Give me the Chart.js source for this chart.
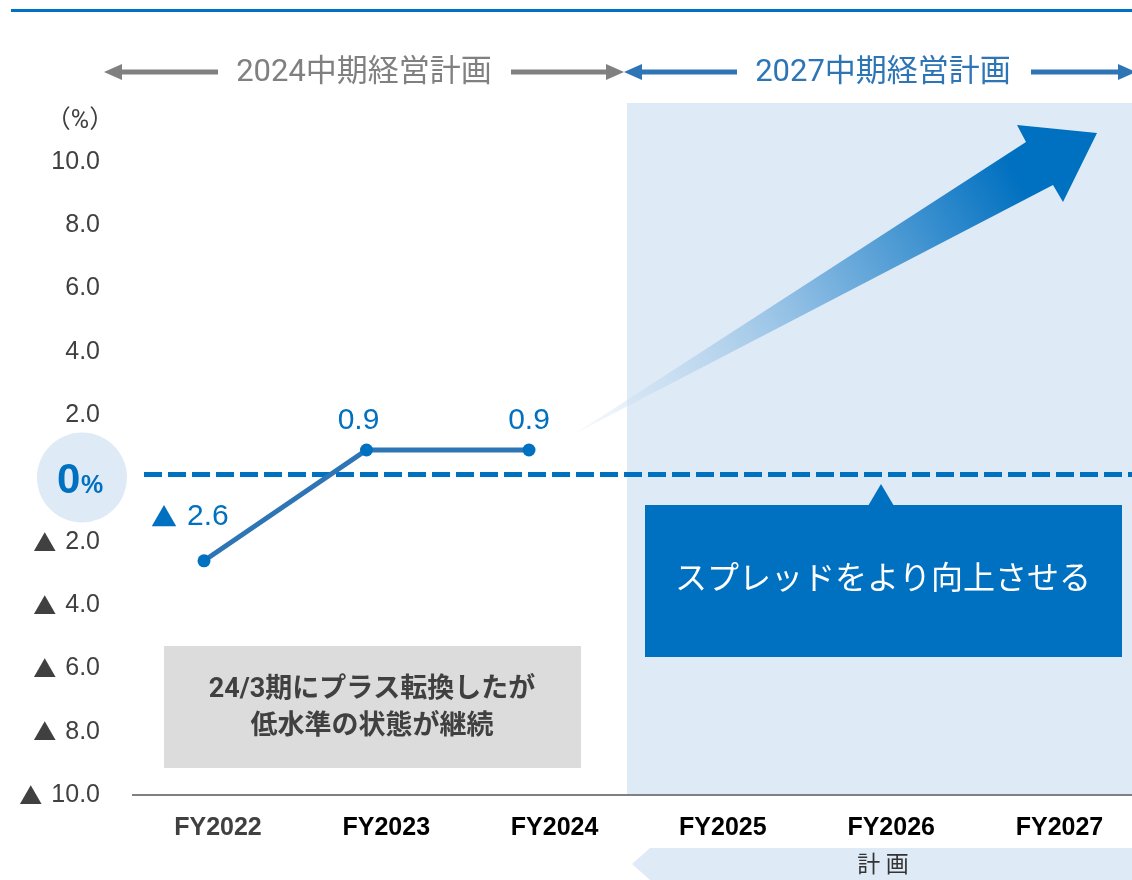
<!DOCTYPE html>
<html><head><meta charset="utf-8">
<script src="https://cdn.jsdelivr.net/npm/chart.js@4"></script>
<style>html,body{margin:0;padding:0;background:#fff;overflow:hidden;} canvas{display:block;}</style>
</head><body>
<canvas id="c" width="1132" height="880"></canvas>
<script>
// ---- data ----
const categories = ['FY2022', 'FY2023', 'FY2024', 'FY2025', 'FY2026', 'FY2027'];
const spreadValues = [-2.6, 0.9, 0.9];
const yTickValues = [-10, -8, -6, -4, -2, 0, 2, 4, 6, 8, 10];
const categoryColors = ['#404040', '#000000', '#000000', '#000000', '#000000', '#000000'];
const periodTitles = ['2024中期経営計画', '2027中期経営計画'];
const noteLines = ['24/3期にプラス転換したが', '低水準の状態が継続'];
const goalText = 'スプレッドをより向上させる';
const planText = '計 画';
const unitText = '（%）';
const zeroText = ['0', '%'];
const negMark = '▲';

const BLUE = '#0070c0';
const LIGHT = '#deeaf6';
const JP = 'Roboto, "Noto Sans CJK JP", sans-serif';
const CJK = '"Noto Sans CJK JP", sans-serif';
const SANS = '"Liberation Sans", Arial, "DejaVu Sans", sans-serif';

function arrowHead(ctx, tipX, y, dir, len, half, color) {
  ctx.fillStyle = color;
  ctx.beginPath();
  ctx.moveTo(tipX, y);
  ctx.lineTo(tipX - dir * len, y - half);
  ctx.lineTo(tipX - dir * len, y + half);
  ctx.closePath();
  ctx.fill();
}
function shaft(ctx, x1, x2, y, w, color) {
  ctx.fillStyle = color;
  ctx.fillRect(x1, y - w / 2, x2 - x1, w);
}

const decorPlugin = {
  id: 'decor',
  beforeDraw(chart) {
    const ctx = chart.ctx;
    const area = chart.chartArea;
    const ys = chart.scales.y;
    ctx.save();
    // top rule
    ctx.fillStyle = BLUE;
    ctx.fillRect(11, 9, 1121, 3);

    // shaded plan region
    ctx.fillStyle = LIGHT;
    ctx.fillRect(627, 103, area.right - 627, area.bottom - 103);

    // plan chevron at bottom
    ctx.beginPath();
    ctx.moveTo(650, 848);
    ctx.lineTo(1132, 848);
    ctx.lineTo(1132, 880);
    ctx.lineTo(650, 880);
    ctx.lineTo(632, 864);
    ctx.closePath();
    ctx.fill();
    ctx.fillStyle = '#333333';
    ctx.font = '23px ' + JP;
    ctx.textAlign = 'center';
    ctx.textBaseline = 'middle';
    ctx.fillText(planText, 883, 866);

    // period arrows and titles
    const gray = '#808080';
    const ay = 72;
    arrowHead(ctx, 104, ay, -1, 18, 8, gray);
    shaft(ctx, 118, 218, ay, 5, gray);
    shaft(ctx, 511, 610, ay, 5, gray);
    arrowHead(ctx, 624, ay, 1, 18, 8, gray);
    arrowHead(ctx, 624, ay, -1, 18, 8, '#2e75b6');
    shaft(ctx, 638, 737, ay, 5, '#2e75b6');
    shaft(ctx, 1031, 1125, ay, 5, '#2e75b6');
    arrowHead(ctx, 1136, ay, 1, 18, 8, '#2e75b6');
    ctx.font = '31px ' + JP;
    ctx.fillStyle = gray;
    ctx.fillText(periodTitles[0], 364, ay + 1);
    ctx.fillStyle = '#2e75b6';
    ctx.fillText(periodTitles[1], 883, ay + 1);

    // unit
    ctx.fillStyle = '#404040';
    ctx.font = '25px ' + JP;
    ctx.fillText(unitText, 80, 122);

    // gray note box
    ctx.fillStyle = '#dcdcdc';
    ctx.fillRect(164, 646, 417, 122);
    ctx.fillStyle = '#404040';
    ctx.font = 'bold 27px ' + JP;
    ctx.fillText(noteLines[0], 372, 690);
    ctx.fillText(noteLines[1], 372, 727);

    // big gradient arrow
    const g = ctx.createLinearGradient(576, 433, 1097, 133);
    g.addColorStop(0, 'rgba(222,234,246,0.3)');
    g.addColorStop(0.45, '#86b9e2');
    g.addColorStop(0.85, BLUE);
    g.addColorStop(1, BLUE);
    ctx.fillStyle = g;
    ctx.beginPath();
    ctx.moveTo(576, 433);
    ctx.lineTo(1026, 142);
    ctx.lineTo(1017, 125);
    ctx.lineTo(1097, 133);
    ctx.lineTo(1063, 202);
    ctx.lineTo(1053, 185);
    ctx.closePath();
    ctx.fill();

    // goal callout
    ctx.fillStyle = BLUE;
    ctx.beginPath();
    ctx.moveTo(881, 484);
    ctx.lineTo(894, 506);
    ctx.lineTo(868, 506);
    ctx.closePath();
    ctx.fill();
    ctx.fillRect(645, 505, 477, 152);
    ctx.fillStyle = '#ffffff';
    ctx.font = '32px ' + JP;
    ctx.fillText(goalText, 883, 581);

    // zero reference dashed line
    const y0 = ys.getPixelForValue(0);
    ctx.strokeStyle = BLUE;
    ctx.lineWidth = 5;
    ctx.setLineDash([18, 6]);
    ctx.beginPath();
    ctx.moveTo(144, y0 - 4);
    ctx.lineTo(area.right, y0 - 4);
    ctx.stroke();
    ctx.setLineDash([]);

    // zero circle
    ctx.fillStyle = LIGHT;
    ctx.beginPath();
    ctx.arc(82, y0 - 1, 45, 0, Math.PI * 2);
    ctx.fill();
    ctx.fillStyle = BLUE;
    ctx.textBaseline = 'alphabetic';
    ctx.textAlign = 'left';
    ctx.font = 'bold 42px ' + SANS;
    ctx.fillText(zeroText[0], 57, y0 + 14);
    ctx.font = 'bold 25px ' + SANS;
    ctx.fillText(zeroText[1], 81, y0 + 14);
    ctx.restore();
  },
  afterDraw(chart) {
    // negative markers in front of the negative y tick labels
    const ctx = chart.ctx;
    const ys = chart.scales.y;
    ctx.save();
    ctx.textBaseline = 'middle';
    ctx.textAlign = 'right';
    ys.ticks.forEach(t => {
      if (t.value < 0) {
        const y = ys.getPixelForValue(t.value);
        ctx.font = '25px ' + SANS;
        const w = ctx.measureText(Math.abs(t.value).toFixed(1)).width;
        ctx.font = '23px ' + CJK;
        ctx.fillStyle = '#404040';
        ctx.fillText(negMark, 100 - w - 9, y);
      }
    });
    ctx.restore();
  },
  afterDatasetsDraw(chart) {
    const ctx = chart.ctx;
    const meta = chart.getDatasetMeta(0);
    ctx.save();
    ctx.fillStyle = BLUE;
    ctx.textBaseline = 'middle';
    meta.data.forEach((pt, i) => {
      const v = spreadValues[i];
      const num = Math.abs(v).toFixed(1);
      if (v < 0) {
        ctx.textAlign = 'left';
        ctx.font = '30px ' + SANS;
        ctx.fillText(num, pt.x - 17, pt.y - 44);
        ctx.textAlign = 'right';
        ctx.font = '26px ' + CJK;
        ctx.fillText(negMark, pt.x - 27, pt.y - 44);
      } else {
        ctx.textAlign = 'center';
        ctx.font = '30px ' + SANS;
        ctx.fillText(num, pt.x - (i === 1 ? 8 : 0), pt.y - 29);
      }
    });
    ctx.restore();
  }
};

new Chart(document.getElementById('c'), {
  type: 'line',
  data: {
    datasets: [{
      data: spreadValues.map((v, i) => ({ x: i, y: v })),
      xAxisID: 'xp',
      yAxisID: 'y',
      borderColor: '#2e75b6',
      borderWidth: 5,
      pointRadius: 6.5,
      pointBackgroundColor: BLUE,
      pointBorderWidth: 0,
      tension: 0,
      clip: false
    }]
  },
  options: {
    responsive: false,
    animation: false,
    devicePixelRatio: 1,
    layout: { autoPadding: false, padding: { top: 162, right: 0, bottom: 0, left: 0 } },
    plugins: { legend: { display: false }, tooltip: { enabled: false } },
    scales: {
      x: {
        type: 'linear',
        position: 'bottom',
        min: -0.505,
        max: 5.431,
        afterBuildTicks: s => { s.ticks = categories.map((_, i) => ({ value: i })); },
        afterFit: s => { s.height = 85; s.paddingLeft = 0; s.paddingRight = 0; },
        grid: { display: false, drawTicks: false },
        border: { display: true, color: '#808080', width: 2 },
        ticks: {
          callback: v => categories[v],
          color: c => categoryColors[c.index],
          font: { family: SANS, weight: 'bold', size: 25 },
          padding: 18,
          autoSkip: false,
          maxRotation: 0
        }
      },
      xp: {
        type: 'linear',
        display: false,
        min: -0.437,
        max: 5.711,
        ticks: { display: false },
        grid: { display: false }
      },
      y: {
        type: 'linear',
        min: -10,
        max: 10,
        afterBuildTicks: s => { s.ticks = yTickValues.map(v => ({ value: v })); },
        afterFit: s => { s.width = 133; s.paddingTop = 0; s.paddingBottom = 0; },
        grid: { display: false, drawTicks: false },
        border: { display: false },
        ticks: {
          callback: v => (v === 0 ? '' : Math.abs(v).toFixed(1)),
          color: '#404040',
          font: { family: SANS, size: 25 },
          padding: 33
        }
      }
    }
  },
  plugins: [decorPlugin]
});
</script>
</body></html>
